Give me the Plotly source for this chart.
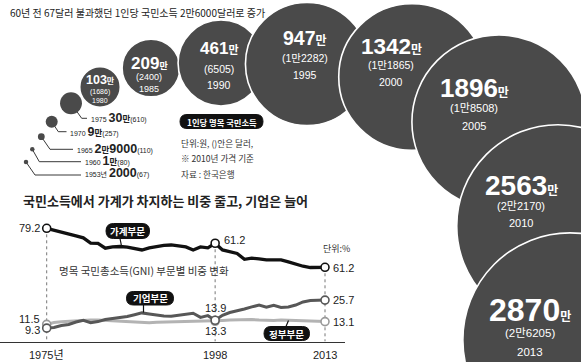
import plotly.graph_objects as go
import math

W, H = 581, 362

# ---------------- data: per-capita nominal GNI ----------------
gni_years = [1953, 1960, 1965, 1970, 1975, 1980, 1985, 1990, 1995, 2000, 2005, 2010, 2013]
gni_krw = [2000, 10000, 29000, 90000, 300000, 1030000, 2090000, 4610000,
           9470000, 13420000, 18960000, 25630000, 28700000]
gni_usd = [67, 80, 110, 257, 610, 1686, 2400, 6505, 12282, 11865, 18508, 22170, 26205]

# ---------------- data: GNI share by sector (%) ----------------
share_years = list(range(1975, 2014))
household = [79.2, 78.4, 77.5, 76.8, 75.7, 74.8, 72.4, 72.2, 70.0, 70.6,
             70.8, 70.5, 69.9, 69.2, 70.2, 70.8, 71.3, 71.5, 71.1, 70.6,
             69.2, 70.6, 70.2, 72.3, 69.2, 68.3, 67.6, 64.9, 65.4, 65.1,
             64.6, 64.6, 64.6, 63.7, 62.6, 61.7, 61.1, 61.1, 61.2]
corporate = [9.3, 9.7, 10.8, 11.4, 12.9, 13.9, 12.5, 13.1, 14.3, 14.9,
             15.4, 16.1, 17.1, 18.2, 17.6, 17.0, 16.4, 16.3, 16.9, 17.3,
             18.0, 15.6, 16.6, 13.9, 16.8, 18.4, 19.3, 20.5, 21.7, 22.8,
             21.5, 22.7, 21.4, 21.7, 22.8, 24.6, 25.5, 25.6, 25.7]
government = [11.5, 12.6, 13.0, 13.3, 13.5, 13.8, 14.0, 14.0, 13.8, 13.6,
              13.2, 12.9, 12.6, 12.5, 12.5, 12.7, 12.8, 12.9, 12.9, 13.0,
              13.2, 13.4, 13.3, 13.3, 13.8, 14.0, 14.2, 14.4, 14.3, 14.0,
              13.7, 13.8, 14.0, 13.9, 13.7, 13.6, 13.4, 13.2, 13.1]
mark_years = [1975, 1998, 2013]
hh_labels = ["79.2", "61.2", "61.2"]
corp_labels = ["9.3", "13.9", "25.7"]
gov_labels = ["11.5", "13.3", "13.1"]
tick_vals = [1975, 1998, 2013]
tick_text = ["1975년", "1998", "2013"]

# ---------------- layout constants (pixel canvas) ----------------
bubble_cx = [26, 32.3, 41.3, 51.7, 71, 100, 151, 221, 307, 412, 499, 558, 570]
bubble_cy = [162, 149.3, 136.7, 121.7, 103.3, 87, 68, 63, 64, 77, 122, 226, 340]
BUB = "#4a4a4a"

DIG = "'Liberation Sans', Arial, 'Noto Sans CJK KR', sans-serif"
SANS = "'Liberation Sans', Arial, 'Noto Sans CJK KR', sans-serif"
KR = "'Noto Sans CJK KR', sans-serif"


def krw_rich(v, man_size):
    man, rest = divmod(v, 10000)
    s = ""
    if man:
        s += f"<b>{man}<span style=\"font-size:{man_size}px\">만</span></b>"
    if rest:
        s += f"<b>{rest}</b>"
    return s


def usd_text(u):
    man, rest = divmod(u, 10000)
    return f"({man}만{rest:04d})" if man else f"({rest})"


def idx(y):
    return share_years.index(y)


fig = go.Figure()

# ---------------- line chart ----------------
HH_C, CO_C, GO_C = "#111111", "#575757", "#b3b3b3"
fig.add_trace(go.Scatter(x=share_years, y=government, mode="lines",
                         line=dict(color=GO_C, width=3), yaxis="y3", hoverinfo="skip"))
fig.add_trace(go.Scatter(x=share_years, y=corporate, mode="lines",
                         line=dict(color=CO_C, width=3), yaxis="y3", hoverinfo="skip"))
fig.add_trace(go.Scatter(x=share_years, y=household, mode="lines",
                         line=dict(color=HH_C, width=3.3), yaxis="y", hoverinfo="skip"))
for series, col, ax in [(government, "#999999", "y3"), (corporate, CO_C, "y3"), (household, HH_C, "y")]:
    fig.add_trace(go.Scatter(x=mark_years, y=[series[idx(y)] for y in mark_years], mode="markers",
                             marker=dict(color="white", size=8, line=dict(color=col, width=1.6)),
                             yaxis=ax, hoverinfo="skip"))

# axis geometry
left_px, right_px = 0.0, 345.0
px_per_year = (325.0 - 46.7) / 38
x_r0 = 1975 - (46.7 - left_px) / px_per_year
x_r1 = x_r0 + (right_px - left_px) / px_per_year
top_px, bot_px = 215.0, 341.5
dom = [1 - bot_px / H, 1 - top_px / H]
s_h = (267.3 - 228.3) / (79.2 - 61.2)
r1h = 79.2 + (228.3 - top_px) / s_h
r0h = r1h - (bot_px - top_px) / s_h
s_l = 1.708
r1l = 14.467 + (319.28 - top_px) / s_l
r0l = r1l - (bot_px - top_px) / s_l

shapes = []
# dotted verticals
for y in mark_years:
    shapes.append(dict(type="line", xref="x", yref="y", x0=y, x1=y, y0=household[idx(y)], y1=r0h,
                       line=dict(color="#777", width=1, dash="dot"), layer="below"))

annotations = []


def ann(x, y, text, size, color="#222", family=SANS, xanchor="center", yanchor="middle",
        xref="x2", yref="y2", **kw):
    annotations.append(dict(x=x, y=y, text=text, xref=xref, yref=yref, showarrow=False,
                            xanchor=xanchor, yanchor=yanchor,
                            font=dict(size=size, color=color, family=family), **kw))


# x tick labels
for tv, tt in zip(tick_vals, tick_text):
    ann(tv, 1 - 354.5 / H, tt, 11, color="#222", family=SANS, xref="x", yref="paper")

# endpoint labels
LS = 11
offs_hh = [(-5, 0, "right"), (7, 3, "left"), (6, -1, "left")]
offs_co = [(-5, -2, "right"), (0, 12, "center"), (6, 0, "left")]
offs_go = [(-5, 5, "right"), (0, -10, "center"), (6, 0, "left")]
for series, labels, offs, ax in [(household, hh_labels, offs_hh, "y"),
                                 (corporate, corp_labels, offs_co, "y3"),
                                 (government, gov_labels, offs_go, "y3")]:
    for yr, lab, (dx, dy, xa) in zip(mark_years, labels, offs):
        ann(yr, series[idx(yr)], lab, LS, xref="x", yref=ax, xanchor=xa, xshift=dx, yshift=dy)


def rrect(x0, y0, x1, y1, r):
    return (f"M{x0 + r},{y0} L{x1 - r},{y0} Q{x1},{y0} {x1},{y0 + r} L{x1},{y1 - r} "
            f"Q{x1},{y1} {x1 - r},{y1} L{x0 + r},{y1} Q{x0},{y1} {x0},{y1 - r} "
            f"L{x0},{y0 + r} Q{x0},{y0} {x0 + r},{y0} Z")


tags = [("가계부문", (106, 223.5, 149.5, 238.5), (120, 238.5, 121.5, 246), 9.5),
        ("기업부문", (126.5, 291.5, 173.5, 305), (143.5, 305, 143.5, 312.5), 9.5),
        ("정부부문", (264, 326.5, 309.5, 340.5), (286, 326.5, 288.5, 320.5), 9.5),
        ("1인당 명목 국민소득", (180, 114.5, 263, 128.5), None, 8.3)]
for text, (x0, y0, x1, y1), ptr, fs in tags:
    if ptr:
        shapes.append(dict(type="line", xref="x2", yref="y2", x0=ptr[0], y0=ptr[1], x1=ptr[2], y1=ptr[3],
                           line=dict(color="#111", width=1.2)))
    shapes.append(dict(type="path", xref="x2", yref="y2", path=rrect(x0, y0, x1, y1, (y1 - y0) / 2),
                       fillcolor="#111", line=dict(color="#111", width=1)))
    ann((x0 + x1) / 2, (y0 + y1) / 2, f"<b>{text}</b>", fs, color="white", family=KR)

# titles and notes
ann(8, 12, "60년 전 67달러 불과했던 1인당 국민소득 2만6000달러로 증가", 10, color="#222", family=KR, xanchor="left")
ann(21, 200, "<b>국민소득에서 가계가 차지하는 비중 줄고, 기업은 늘어</b>", 13, color="#222", family=KR, xanchor="left")
ann(57, 270, "명목 국민총소득(GNI) 부문별 비중 변화", 10.5, color="#333", family=KR, xanchor="left")
ann(321, 248.5, "단위:%", 9, color="#333", family=KR, xanchor="left")
ann(179, 143, "단위:원, ()안은 달러,", 8.6, color="#333", family=KR, xanchor="left")
ann(179, 158, "※ 2010년 가격 기준", 8.6, color="#333", family=KR, xanchor="left")
ann(179, 174, "자료 : 한국은행", 8.6, color="#333", family=KR, xanchor="left")

# ---------------- bubbles ----------------
sizes = [max(4.0 * math.sqrt(v / 10000), 4.5) for v in gni_krw]
fig.add_trace(go.Scatter(x=bubble_cx, y=bubble_cy, mode="markers", xaxis="x2", yaxis="y2",
                         marker=dict(size=sizes, color=BUB, opacity=1,
                                     line=dict(color="white", width=[0] * 5 + [1.6] * 8)),
                         hoverinfo="skip"))

# leader lines for small dots
leaders = ["M26,162 L35,175 L81,175", "M32.3,149.3 L39.3,161.7 L81,161.7",
           "M41.3,136.7 L50,149.3 L73,149.3", "M51.7,121.7 L58.3,131.7 L66.5,131.7",
           "M71,103.3 L81.7,118.3 L87,118.3"]
for p in leaders:
    shapes.append(dict(type="path", xref="x2", yref="y2", path=p, line=dict(color="#222", width=0.9),
                       layer="below"))

sm_x = [83, 83, 75, 68, 89]
sm_y = [173, 161, 148.5, 131.5, 118]
for i in range(5):
    yr = f"{gni_years[i]}년" if i == 0 else f"{gni_years[i]}"
    txt = (f"<span style=\"font-size:7px\">{yr} </span>"
           + krw_rich(gni_krw[i], 8.5)
           + f"<span style=\"font-size:7px\">{usd_text(gni_usd[i])}</span>")
    ann(sm_x[i], sm_y[i], txt, 12.5, color="#222", family=DIG, xanchor="left")

# big bubble labels: (x, y value, y usd, y year, value size, man size, sub size)
blab = [(100, 80, 92, 100, 12.5, 8, 7),
        (149, 63, 77, 89, 17, 9, 9),
        (219, 48, 69, 85, 17, 11, 10.5),
        (305, 38, 58, 75, 19.5, 12, 10.5),
        (391, 46, 65, 82, 22.5, 12, 10.5),
        (474, 88, 108, 126, 26, 12, 11),
        (521, 185, 206, 223, 28, 12, 11),
        (530, 310, 333, 352, 32, 12, 11.5)]
for k, (tx, yv, yu, yy, sv, sm, ss) in enumerate(blab):
    i = k + 5
    ann(tx, yv, krw_rich(gni_krw[i], sm), sv, color="white", family=DIG)
    ann(tx, yu, usd_text(gni_usd[i]), ss, color="white", family=SANS)
    ann(tx, yy, str(gni_years[i]), ss, color="white", family=SANS)

fig.update_layout(
    width=W, height=H, margin=dict(l=0, r=0, t=0, b=0, pad=0),
    paper_bgcolor="white", plot_bgcolor="rgba(0,0,0,0)",
    showlegend=False, shapes=shapes, annotations=annotations,
    xaxis=dict(domain=[left_px / W, right_px / W], range=[x_r0, x_r1], anchor="y",
               showline=True, linecolor="#333", linewidth=1, showgrid=False, zeroline=False,
               showticklabels=False, ticks="", fixedrange=True),
    yaxis=dict(domain=dom, range=[r0h, r1h], visible=False, fixedrange=True),
    yaxis3=dict(domain=dom, range=[r0l, r1l], overlaying="y", anchor="x", visible=False, fixedrange=True),
    xaxis2=dict(domain=[0, 1], range=[0, W], anchor="y2", visible=False, fixedrange=True),
    yaxis2=dict(domain=[0, 1], range=[H, 0], anchor="x2", visible=False, fixedrange=True),
)
fig.write_html("out.html", config={"displayModeBar": False},
               post_script="document.body.style.margin='0px';document.body.style.overflow='hidden';")
